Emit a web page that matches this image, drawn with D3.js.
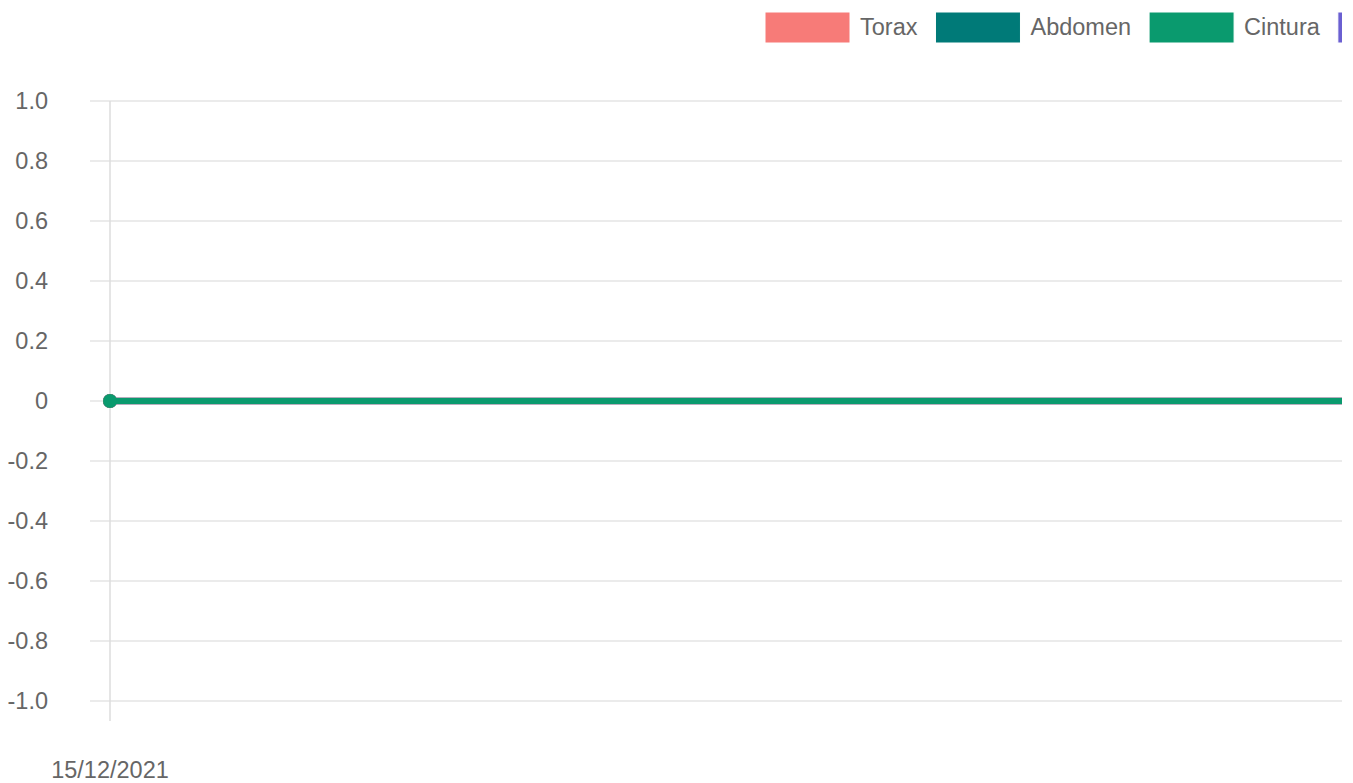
<!DOCTYPE html>
<html>
  <head>
    <meta charset="utf-8">
    <title>Medidas</title>
    <script src="https://cdnjs.cloudflare.com/ajax/libs/d3/7.8.5/d3.min.js"></script>
    <style>
      body { margin: 0; background: #fff; }
      text { font-family: "Liberation Sans", Arial, sans-serif; fill: #666; }
    </style>
  </head>
  <body>
    <script>
      // data
      var dates = ["15/12/2021"];
      var seriesNames = ["Torax", "Abdomen", "Cintura", ""];
      var seriesColors = ["#f77b78", "#007a78", "#0a9a6e", "#6a5fd1"];
      var torax = [0];
      var abdomen = [0];
      var cintura = [0];
      var other = [0];
      var yTicks = [1.0, 0.8, 0.6, 0.4, 0.2, 0, -0.2, -0.4, -0.6, -0.8, -1.0];

      var series = [torax, abdomen, cintura, other];

      var W = 1353, H = 783;
      var svg = d3.select("body").append("svg")
        .attr("width", W)
        .attr("height", H);

      var plotL = 110, plotR = 1342, plotT = 101, plotB = 701;
      var fontSize = "23.5px";

      // canvas ends at plotR, everything past it is blank
      svg.append("clipPath").attr("id", "cv")
        .append("rect").attr("x", 0).attr("y", 0).attr("width", plotR).attr("height", H);
      var g = svg.append("g").attr("clip-path", "url(#cv)");

      var y = d3.scaleLinear().domain([-1, 1]).range([plotB, plotT]);
      var x = d3.scalePoint().domain(dates).range([plotL, plotR]).align(0);
      var fmt = d3.formatLocale({ decimal: ".", thousands: ",", grouping: [3], currency: ["", ""], minus: "-" }).format(".1f");

      // horizontal grid
      g.append("g").selectAll("line").data(yTicks).enter().append("line")
        .attr("x1", plotL - 20).attr("x2", plotR)
        .attr("y1", function (d) { return y(d); })
        .attr("y2", function (d) { return y(d); })
        .attr("stroke", "#e4e4e4").attr("stroke-width", 1.5);

      // vertical grid per date
      g.append("g").selectAll("line").data(dates).enter().append("line")
        .attr("x1", function (d) { return x(d); })
        .attr("x2", function (d) { return x(d); })
        .attr("y1", plotT).attr("y2", plotB + 20)
        .attr("stroke", "#dcdcdc").attr("stroke-width", 1.5);

      // y labels
      g.append("g").selectAll("text").data(yTicks).enter().append("text")
        .attr("x", 48)
        .attr("y", function (d) { return y(d); })
        .attr("dy", "0.35em")
        .attr("text-anchor", "end")
        .style("font-size", fontSize)
        .text(function (d) { return d === 0 ? "0" : fmt(d); });

      // x labels
      g.append("g").selectAll("text").data(dates).enter().append("text")
        .attr("x", function (d) { return x(d); })
        .attr("y", 778)
        .attr("text-anchor", "middle")
        .style("font-size", fontSize)
        .text(function (d) { return d; });

      // lines: drawn so Cintura ends on top
      var order = [3, 1, 0, 2];
      order.forEach(function (i) {
        var vals = series[i];
        var pts = vals.map(function (v, j) { return [x(dates[j]), y(v)]; });
        // extend to plot edge
        pts.push([x.range()[1], y(vals[vals.length - 1])]);
        g.append("path")
          .attr("d", d3.line()(pts))
          .attr("fill", "none")
          .attr("stroke", seriesColors[i])
          .attr("stroke-width", i === 2 ? 6 : 6.5);
        g.append("g").selectAll("circle").data(vals).enter().append("circle")
          .attr("cx", function (d, j) { return x(dates[j]); })
          .attr("cy", function (d) { return y(d); })
          .attr("r", 7)
          .attr("fill", seriesColors[i]);
      });

      // legend
      var lx = 765;
      seriesNames.forEach(function (name, i) {
        g.append("rect")
          .attr("x", lx).attr("y", 12)
          .attr("width", 85).attr("height", 31)
          .attr("fill", seriesColors[i])
          .attr("stroke", "#fff").attr("stroke-width", 1);
        var t = g.append("text")
          .attr("x", lx + 95).attr("y", 27)
          .attr("dy", "0.35em")
          .style("font-size", fontSize)
          .text(name);
        lx += 95 + t.node().getComputedTextLength() + 18;
      });
    </script>
  </body>
</html>
